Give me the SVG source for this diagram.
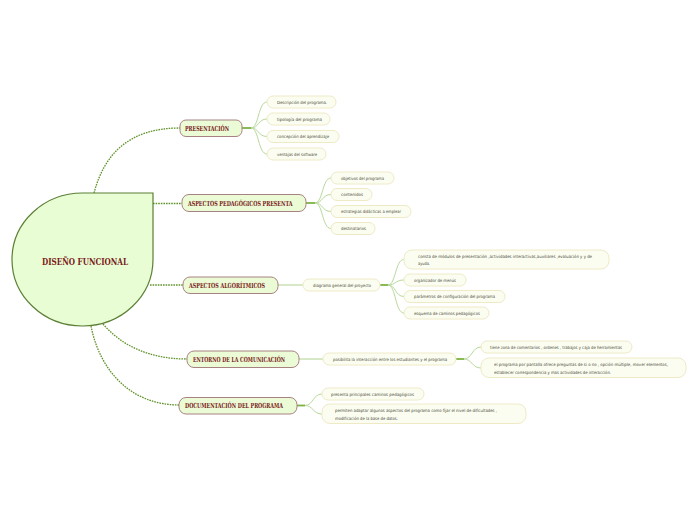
<svg xmlns="http://www.w3.org/2000/svg" width="696" height="520" viewBox="0 0 696 520">
<style>
.main{fill:#e8fdd4;stroke:#5b7f35;stroke-width:1.2}
.br{fill:#ebfbd6;stroke:#a88282;stroke-width:1}
.lf{fill:#fbfdf1;stroke:#efeac6;stroke-width:1}
.bt{font-family:"DejaVu Serif Condensed","DejaVu Serif","Liberation Serif",serif;font-weight:bold;font-size:7px;fill:#7a1a1a}
.ct{font-family:"DejaVu Serif Condensed","DejaVu Serif","Liberation Serif",serif;font-weight:bold;font-size:10px;fill:#7a1a1a}
.lt{font-family:"DejaVu Sans Condensed","Liberation Sans",sans-serif;font-size:4.3px;fill:#4a4a3a}
.dot{fill:none;stroke:#5f9228;stroke-width:1.3;stroke-dasharray:1.6 1}
.stem{fill:none;stroke:#7cb342;stroke-width:1.8}
.cv{fill:none;stroke:#b8d89c;stroke-width:1}
.ln{fill:none;stroke:#cde3b8;stroke-width:1.6}
</style>
<rect width="696" height="520" fill="#ffffff"/>
<g id="connectors">
<path class="dot" d="M94,193 C104,155 128,128 180,128"/>
<path class="dot" d="M153,203.5 L182,203.5"/>
<path class="dot" d="M150,285 L183,285"/>
<path class="dot" d="M103,324 C122,346 150,359 187,359"/>
<path class="dot" d="M91,326 C100,372 132,405 179,405"/>
<path class="stem" d="M242,128 L251,128"/>
<path class="cv" d="M251,128 C259,128 258,102 267,102"/>
<path class="cv" d="M251,128 C259,128 258,119 267,119"/>
<path class="cv" d="M251,128 C259,128 258,136.5 267,136.5"/>
<path class="cv" d="M251,128 C259,128 258,154 267,154"/>
<path class="stem" d="M306,203 L315,203"/>
<path class="cv" d="M315,203 C323,203 322,178 331,178"/>
<path class="cv" d="M315,203 C323,203 322,194.5 331,194.5"/>
<path class="cv" d="M315,203 C323,203 322,211.5 331,211.5"/>
<path class="cv" d="M315,203 C323,203 322,228.5 331,228.5"/>
<path class="ln" d="M278,285 L303,285"/>
<path class="stem" d="M380,285 L388,285"/>
<path class="cv" d="M388,285 C396,285 395,259.5 404,259.5"/>
<path class="cv" d="M388,285 C396,285 395,280 404,280"/>
<path class="cv" d="M388,285 C396,285 395,296.5 404,296.5"/>
<path class="cv" d="M388,285 C396,285 395,313 404,313"/>
<path class="ln" d="M299,359 L323,359"/>
<path class="stem" d="M456,359 L464,359"/>
<path class="cv" d="M464,359 C472,359 472,347 481,347"/>
<path class="cv" d="M464,359 C472,359 472,368 481,368"/>
<path class="stem" d="M297,405.5 L305,405.5"/>
<path class="cv" d="M305,405.5 C313,405.5 313,394 322,394"/>
<path class="cv" d="M305,405.5 C313,405.5 313,414 322,414"/>
</g>
<g id="n-center">
<path class="main" d="M153,193 V259.5 A70.5,66.5 0 0 1 82.5,326 A70.5,66.5 0 0 1 12,259.5 A70.5,66.5 0 0 1 82.5,193 Z"/>
<text class="ct" x="42" y="264.5" textLength="86" lengthAdjust="spacingAndGlyphs">DISEÑO FUNCIONAL</text>
</g>
<g id="n-presentacion">
<rect class="br" x="180" y="120" width="62" height="16.5" rx="6"/>
<text class="bt" x="185" y="130.8" textLength="44" lengthAdjust="spacingAndGlyphs">PRESENTACIÓN</text>
</g>
<g id="n-p1"><rect class="lf" x="267" y="96" width="69" height="12" rx="6"/><text class="lt" x="277" y="103.7" textLength="50" lengthAdjust="spacingAndGlyphs">Descripción del programa.</text></g>
<g id="n-p2"><rect class="lf" x="267" y="113" width="63" height="12" rx="6"/><text class="lt" x="277" y="120.7" textLength="45" lengthAdjust="spacingAndGlyphs">tipología del programa</text></g>
<g id="n-p3"><rect class="lf" x="267" y="130.5" width="72" height="12" rx="6"/><text class="lt" x="277" y="138.2" textLength="52" lengthAdjust="spacingAndGlyphs">concepción del aprendizaje</text></g>
<g id="n-p4"><rect class="lf" x="267" y="148" width="59" height="12" rx="6"/><text class="lt" x="277" y="155.7" textLength="40" lengthAdjust="spacingAndGlyphs">ventajas del software</text></g>
<g id="n-pedagogicos">
<rect class="br" x="182" y="194.5" width="124" height="17" rx="7"/>
<text class="bt" x="188" y="205.6" textLength="104.5" lengthAdjust="spacingAndGlyphs">ASPECTOS PEDAGÓGICOS PRESENTA</text>
</g>
<g id="n-a1"><rect class="lf" x="331" y="172" width="63" height="12" rx="6"/><text class="lt" x="341" y="179.7" textLength="43" lengthAdjust="spacingAndGlyphs">objetivos del programa</text></g>
<g id="n-a2"><rect class="lf" x="331" y="188.5" width="41" height="12" rx="6"/><text class="lt" x="341" y="196.2" textLength="22" lengthAdjust="spacingAndGlyphs">contenidos</text></g>
<g id="n-a3"><rect class="lf" x="331" y="205.5" width="80" height="12" rx="6"/><text class="lt" x="341" y="213.2" textLength="60" lengthAdjust="spacingAndGlyphs">estrategias didácticas a emplear</text></g>
<g id="n-a4"><rect class="lf" x="331" y="222.5" width="44" height="12" rx="6"/><text class="lt" x="341" y="230.2" textLength="25" lengthAdjust="spacingAndGlyphs">destinatarios</text></g>
<g id="n-algoritmicos">
<rect class="br" x="183" y="277" width="95" height="16.5" rx="7"/>
<text class="bt" x="189" y="287.8" textLength="76" lengthAdjust="spacingAndGlyphs">ASPECTOS ALGORÍTMICOS</text>
</g>
<g id="n-diagrama"><rect class="lf" x="303" y="279" width="77" height="12" rx="6"/><text class="lt" x="313" y="286.7" textLength="58" lengthAdjust="spacingAndGlyphs">diagrama general del proyecto</text></g>
<g id="n-g1"><rect class="lf" x="404" y="250" width="205" height="19" rx="8"/>
<text class="lt" x="418" y="257.7" textLength="174" lengthAdjust="spacingAndGlyphs">consta de módulos de presentación ,actividades interactivas,auxiliares ,evaluación y y de</text>
<text class="lt" x="418" y="265.2" textLength="12" lengthAdjust="spacingAndGlyphs">ayuda.</text></g>
<g id="n-g2"><rect class="lf" x="404" y="274" width="62" height="12" rx="6"/><text class="lt" x="414" y="281.7" textLength="42" lengthAdjust="spacingAndGlyphs">organizador de menús</text></g>
<g id="n-g3"><rect class="lf" x="404" y="290.5" width="101" height="12" rx="6"/><text class="lt" x="414" y="298.2" textLength="81" lengthAdjust="spacingAndGlyphs">parámetros de configuración del programa</text></g>
<g id="n-g4"><rect class="lf" x="404" y="307" width="85" height="12" rx="6"/><text class="lt" x="414" y="314.7" textLength="66" lengthAdjust="spacingAndGlyphs">esquema de caminos pedagógicos</text></g>
<g id="n-entorno">
<rect class="br" x="187" y="351" width="112" height="16.5" rx="7"/>
<text class="bt" x="193" y="361.8" textLength="92" lengthAdjust="spacingAndGlyphs">ENTORNO DE LA COMUNICACIÓN</text>
</g>
<g id="n-posibilita"><rect class="lf" x="323" y="353" width="133" height="12" rx="6"/><text class="lt" x="333" y="360.7" textLength="114" lengthAdjust="spacingAndGlyphs">posibilita la interacción entre los estudiantes y el programa</text></g>
<g id="n-e1"><rect class="lf" x="481" y="341" width="151" height="12" rx="6"/><text class="lt" x="490" y="348.7" textLength="132" lengthAdjust="spacingAndGlyphs">tiene zona de comentarios , ordenes , trabajos y caja de herramientas</text></g>
<g id="n-e2"><rect class="lf" x="481" y="358" width="205" height="19.5" rx="8"/>
<text class="lt" x="494" y="366" textLength="174" lengthAdjust="spacingAndGlyphs">el programa por pantalla ofrece preguntas de si o no , opción múltiple, mover elementos,</text>
<text class="lt" x="494" y="373.5" textLength="117" lengthAdjust="spacingAndGlyphs">establecer correspondencia y mas actividades de interacción.</text></g>
<g id="n-documentacion">
<rect class="br" x="179" y="397.5" width="118" height="16.5" rx="7"/>
<text class="bt" x="185" y="408.3" textLength="98" lengthAdjust="spacingAndGlyphs">DOCUMENTACIÓN DEL PROGRAMA</text>
</g>
<g id="n-d1"><rect class="lf" x="322" y="388" width="102" height="12" rx="6"/><text class="lt" x="331" y="395.7" textLength="83" lengthAdjust="spacingAndGlyphs">presenta principales caminos pedagógicos</text></g>
<g id="n-d2"><rect class="lf" x="322" y="404" width="204" height="19.5" rx="8"/>
<text class="lt" x="335" y="412" textLength="162" lengthAdjust="spacingAndGlyphs">permiten adaptar algunos aspectos del programa como fijar el nivel de dificultades ,</text>
<text class="lt" x="335" y="419.5" textLength="63" lengthAdjust="spacingAndGlyphs">modificación de la base de datos.</text></g>
</svg>
